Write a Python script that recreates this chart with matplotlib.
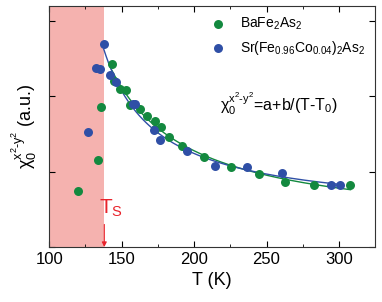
import matplotlib
matplotlib.use("Agg")
import matplotlib.pyplot as plt
import numpy as np

plt.rcParams['font.family'] = ['Liberation Sans', 'DejaVu Sans']
plt.rcParams['mathtext.fontset'] = 'custom'
plt.rcParams['mathtext.rm'] = 'Liberation Sans'
plt.rcParams['mathtext.it'] = 'Liberation Sans:italic'
plt.rcParams['mathtext.default'] = 'regular'

# BaFe2As2 data (T in K, chi in a.u.)
T_ba = [119.5, 133.3, 135.6, 143.4, 144.7, 149.1, 153.0, 156.0, 162.6, 167.7,
        172.7, 173.0, 177.1, 182.9, 191.8, 206.5, 225.5, 244.5, 262.7, 282.7, 307.6]
chi_ba = [0.75, 1.15, 1.86, 2.43, 2.20, 2.10, 2.08, 1.89, 1.83, 1.74,
          1.67, 1.57, 1.59, 1.46, 1.34, 1.20, 1.06, 0.97, 0.87, 0.82, 0.82]

# Sr(Fe0.96Co0.04)2As2 data
T_sr = [126.4, 132.4, 135.1, 137.6, 141.8, 146.4, 157.8, 158.9, 172.3, 176.7,
        195.0, 214.7, 236.5, 260.8, 294.8, 300.7]
chi_sr = [1.53, 2.38, 2.37, 2.69, 2.29, 2.19, 1.90, 1.90, 1.56, 1.42,
          1.28, 1.08, 1.06, 0.98, 0.83, 0.82]

Ts = 138
green = '#13893f'
blue = '#2f4fa6'


def curie_fit(T, y, tmin):
    # chi = a + b/(T - T0), linear least squares for a, b on a grid of T0
    T = np.array(T)
    y = np.array(y)
    m = T >= tmin
    T, y = T[m], y[m]
    best = None
    for T0 in np.arange(0, tmin - 2, 0.5):
        A = np.column_stack([np.ones_like(T), 1.0 / (T - T0)])
        coef, res, _, _ = np.linalg.lstsq(A, y, rcond=None)
        err = np.sum((A @ coef - y) ** 2)
        if best is None or err < best[0]:
            best = (err, coef[0], coef[1], T0)
    return best[1:]


fig = plt.figure(figsize=(3.82, 3.02), dpi=100)
ax = fig.add_axes([0.129, 0.182, 0.853, 0.798])

ax.axvspan(100, Ts, color='#f5b2af', lw=0, zorder=0)

a, b, T0 = curie_fit(T_ba, chi_ba, 143)
tt = np.linspace(143, 308, 200)
ax.plot(tt, a + b / (tt - T0), color=green, lw=1, zorder=2)
a, b, T0 = curie_fit(T_sr, chi_sr, 137)
tt = np.linspace(137.6, 301, 200)
ax.plot(tt, a + b / (tt - T0), color=blue, lw=1, zorder=2)

ax.scatter(T_ba, chi_ba, s=42, color=green, lw=0, zorder=3, label=r'BaFe$_2$As$_2$')
ax.scatter(T_sr, chi_sr, s=42, color=blue, lw=0, zorder=3,
           label=r'Sr(Fe$_{0.96}$Co$_{0.04}$)$_2$As$_2$')

ax.annotate('', xy=(Ts, 0.0), xytext=(Ts, 0.3),
            arrowprops=dict(arrowstyle='-|>', color='#e8232b', lw=0.8,
                            mutation_scale=7, shrinkA=0, shrinkB=0))
ax.text(134.3, 0.52, r'T$_\mathrm{S}$', color='#e8232b', fontsize=15,
        ha='left', va='center')

ax.text(218, 1.9, r'$\chi_0^{x^2\text{-}y^2}$=a+b/(T-T$_0$)', fontsize=11.5,
        ha='left', va='center')

ax.legend(loc='upper right', frameon=False, fontsize=10, handletextpad=0.6,
          borderaxespad=0.3, labelspacing=0.5, markerscale=1.0,
          bbox_to_anchor=(1.0, 1.0))

ax.set_xlim(100, 324)
ax.set_ylim(0, 3.2)
ax.set_xticks([100, 150, 200, 250, 300])
ax.set_xticks([125, 175, 225, 275, 325], minor=True)
ax.set_yticks([0, 1, 2, 3])
ax.set_yticklabels([])
ax.tick_params(direction='in', top=True, right=True, which='both', labelsize=12)
ax.tick_params(which='major', length=4)
ax.tick_params(which='minor', length=2.5)
ax.set_xlabel('T (K)', fontsize=13)
ax.set_ylabel(r'$\chi_0^{x^2\text{-}y^2}$ (a.u.)', fontsize=13)
for s in ax.spines.values():
    s.set_linewidth(0.8)
    s.set_color('#333333')

fig.savefig('out.png', dpi=100)
